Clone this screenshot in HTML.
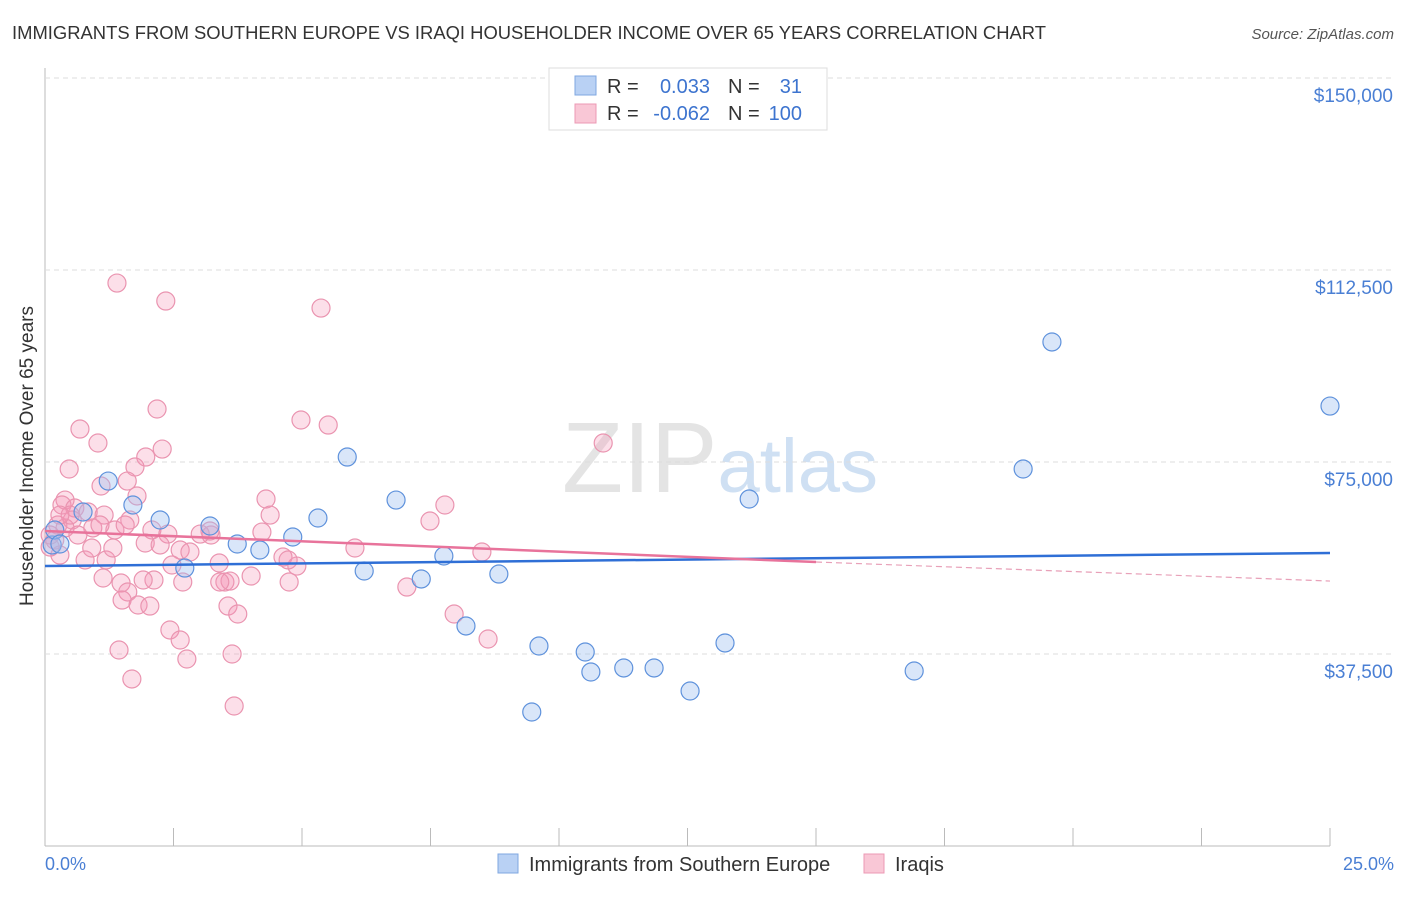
<!DOCTYPE html>
<html><head><meta charset="utf-8"><style>
body{margin:0;background:#fff;font-family:"Liberation Sans",sans-serif;}
svg text{font-family:"Liberation Sans",sans-serif;}
</style></head><body>
<svg id="chart" width="1406" height="892">
<text x="12" y="39" font-size="18.5" fill="#333" textLength="1034" lengthAdjust="spacingAndGlyphs">IMMIGRANTS FROM SOUTHERN EUROPE VS IRAQI HOUSEHOLDER INCOME OVER 65 YEARS CORRELATION CHART</text>
<text x="1394" y="39" font-size="15" fill="#555" text-anchor="end" font-style="italic">Source: ZipAtlas.com</text>
<text x="720" y="492" font-size="100" fill="#e4e4e4" text-anchor="middle" font-family="Liberation Serif">ZIP<tspan fill="#cfe0f3" font-family="Liberation Sans" font-size="76">atlas</tspan></text>
<g id="grid"></g><g id="pinkpts"></g><g id="bluepts"></g><g id="trends"></g>
<text transform="translate(33,456) rotate(-90)" font-size="19" fill="#333" text-anchor="middle">Householder Income Over 65 years</text>
<text x="45" y="870" font-size="18" fill="#4a7fd4">0.0%</text>
<text x="1394" y="870" font-size="18" fill="#4a7fd4" text-anchor="end">25.0%</text>
<g>
<rect x="549" y="68" width="278" height="62" fill="#fff" stroke="#ddd"/>
<rect x="575" y="76" width="21" height="19" fill="#b9d1f4" stroke="#7fa7e0"/>
<rect x="575" y="104" width="21" height="19" fill="#f9c7d6" stroke="#ec9ab4"/>
<text x="607" y="93" font-size="20" fill="#333">R =</text><text x="710" y="93" font-size="20" fill="#3d74cf" text-anchor="end">0.033</text>
<text x="728" y="93" font-size="20" fill="#333">N =</text><text x="802" y="93" font-size="20" fill="#3d74cf" text-anchor="end">31</text>
<text x="607" y="120" font-size="20" fill="#333">R =</text><text x="710" y="120" font-size="20" fill="#3d74cf" text-anchor="end">-0.062</text>
<text x="728" y="120" font-size="20" fill="#333">N =</text><text x="802" y="120" font-size="20" fill="#3d74cf" text-anchor="end">100</text>
</g>
<g>
<rect x="498" y="854" width="20" height="19" fill="#b9d1f4" stroke="#7fa7e0"/>
<text x="529" y="871" font-size="20" fill="#333">Immigrants from Southern Europe</text>
<rect x="864" y="854" width="20" height="19" fill="#f9c7d6" stroke="#ec9ab4"/>
<text x="895" y="871" font-size="20" fill="#333">Iraqis</text>
</g>
</svg>
<script>
const yTicks=[37500,75000,112500,150000];
const yTickLabels=["$37,500","$75,000","$112,500","$150,000"];
const xTicks=[0,2.5,5,7.5,10,12.5,15,17.5,20,22.5,25];
const blueX=[0.14,0.19,0.29,0.74,1.23,1.71,2.24,2.72,3.21,3.74,4.18,4.82,5.31,5.88,6.21,6.83,7.32,7.76,8.19,8.83,9.61,10.51,10.62,11.26,11.85,12.55,13.23,9.47,13.70,16.91,19.03,19.59,25.0];
const blueY=[58790,61720,58980,65230,71280,66600,63670,54290,62500,58980,57810,60350,64060,75970,53710,67570,52150,56640,42970,53120,39060,37890,33980,34770,34770,30270,39650,26170,67770,34180,73630,98440,85930];
const pinkX=[1.40,2.35,5.37,2.18,0.68,1.03,4.98,5.51,2.28,1.96,10.86,0.47,1.75,1.09,1.60,1.79,0.39,0.33,4.30,7.78,7.49,0.58,0.84,1.15,1.65,1.36,0.25,0.53,0.93,1.56,2.08,2.39,2.63,3.23,4.22,4.63,4.90,6.03,8.50,0.29,0.78,1.19,1.95,2.47,3.39,4.01,4.75,1.13,1.48,2.12,2.68,3.50,3.60,1.61,1.50,1.81,2.04,3.56,3.75,7.04,7.96,2.43,2.63,8.62,1.44,2.76,3.64,1.69,3.68,0.39,0.49,0.19,0.91,1.32,3.02,1.91,3.21,0.10,0.10,0.29,0.64,1.07,2.24,2.82,4.38,4.73,3.40];
const pinkY=[109950,106440,105070,85350,81440,78710,83200,82220,77530,75970,78710,73630,74020,70310,71280,68360,67570,66600,67770,66600,63470,66010,65230,64640,63670,61720,62690,63670,62110,62690,61720,60930,57810,60740,61320,56440,54680,58200,57420,56830,55860,55860,59180,54880,55270,52730,51560,52340,51360,51950,51560,51560,51750,49610,48040,47070,46870,46870,45310,50580,45310,42190,40230,40430,38280,36520,37500,32620,27340,62110,64640,59760,58200,58200,60930,51950,61520,58390,60740,64640,60740,62690,58790,57420,64640,55860,51560];
const blueTrend=[54680,57220];
const pinkTrend=[61520,55470,51750];
const pinkTrendX=[0,15,25];
const NS='http://www.w3.org/2000/svg';
const X=v=>45+v/25*1285;
const Y=v=>846-v/37500*192;
function mk(t,a,p){const e=document.createElementNS(NS,t);for(const k in a)e.setAttribute(k,a[k]);p.appendChild(e);return e;}
const grid=document.getElementById('grid');
mk('line',{x1:45,y1:68,x2:45,y2:846,stroke:'#bbb'},grid);
mk('line',{x1:45,y1:846,x2:1330,y2:846,stroke:'#bbb'},grid);
yTicks.forEach((t,i)=>{
 const g=mk('line',{x1:45,y1:Y(t),x2:1394,y2:Y(t),stroke:'#ddd','stroke-dasharray':'5,4'},grid);
 
 
 const tx=mk('text',{x:1393,y:Y(t)+24,'font-size':19,fill:'#4a7fd4','text-anchor':'end'},grid);
 tx.textContent=yTickLabels[i];
 
 
});
xTicks.forEach(t=>{
 const l=mk('line',{x1:X(t),y1:828,x2:X(t),y2:846,stroke:'#bbb'},grid);
 
 
});
const pg=document.getElementById('pinkpts');
pinkX.forEach((x,i)=>{
 const c=mk('circle',{cx:X(x),cy:Y(pinkY[i]),r:9,fill:'rgba(245,150,182,0.3)',stroke:'#ea94b0','stroke-width':1.2},pg);
 
 
});
const bg=document.getElementById('bluepts');
blueX.forEach((x,i)=>{
 const c=mk('circle',{cx:X(x),cy:Y(blueY[i]),r:9,fill:'rgba(160,192,240,0.4)',stroke:'#5f92dc','stroke-width':1.2},bg);
 
 
});
const tg=document.getElementById('trends');
const bl=mk('line',{x1:X(0),y1:Y(blueTrend[0]),x2:X(25),y2:Y(blueTrend[1]),stroke:'#2f6fd6','stroke-width':2.5},tg);


const pl=mk('line',{x1:X(pinkTrendX[0]),y1:Y(pinkTrend[0]),x2:X(pinkTrendX[1]),y2:Y(pinkTrend[1]),stroke:'#e8739b','stroke-width':2.5},tg);


const pd=mk('line',{x1:X(pinkTrendX[1]),y1:Y(pinkTrend[1]),x2:X(pinkTrendX[2]),y2:Y(pinkTrend[2]),stroke:'#e8a0b8','stroke-width':1.2,'stroke-dasharray':'6,4'},tg);


</script>
</body></html>
